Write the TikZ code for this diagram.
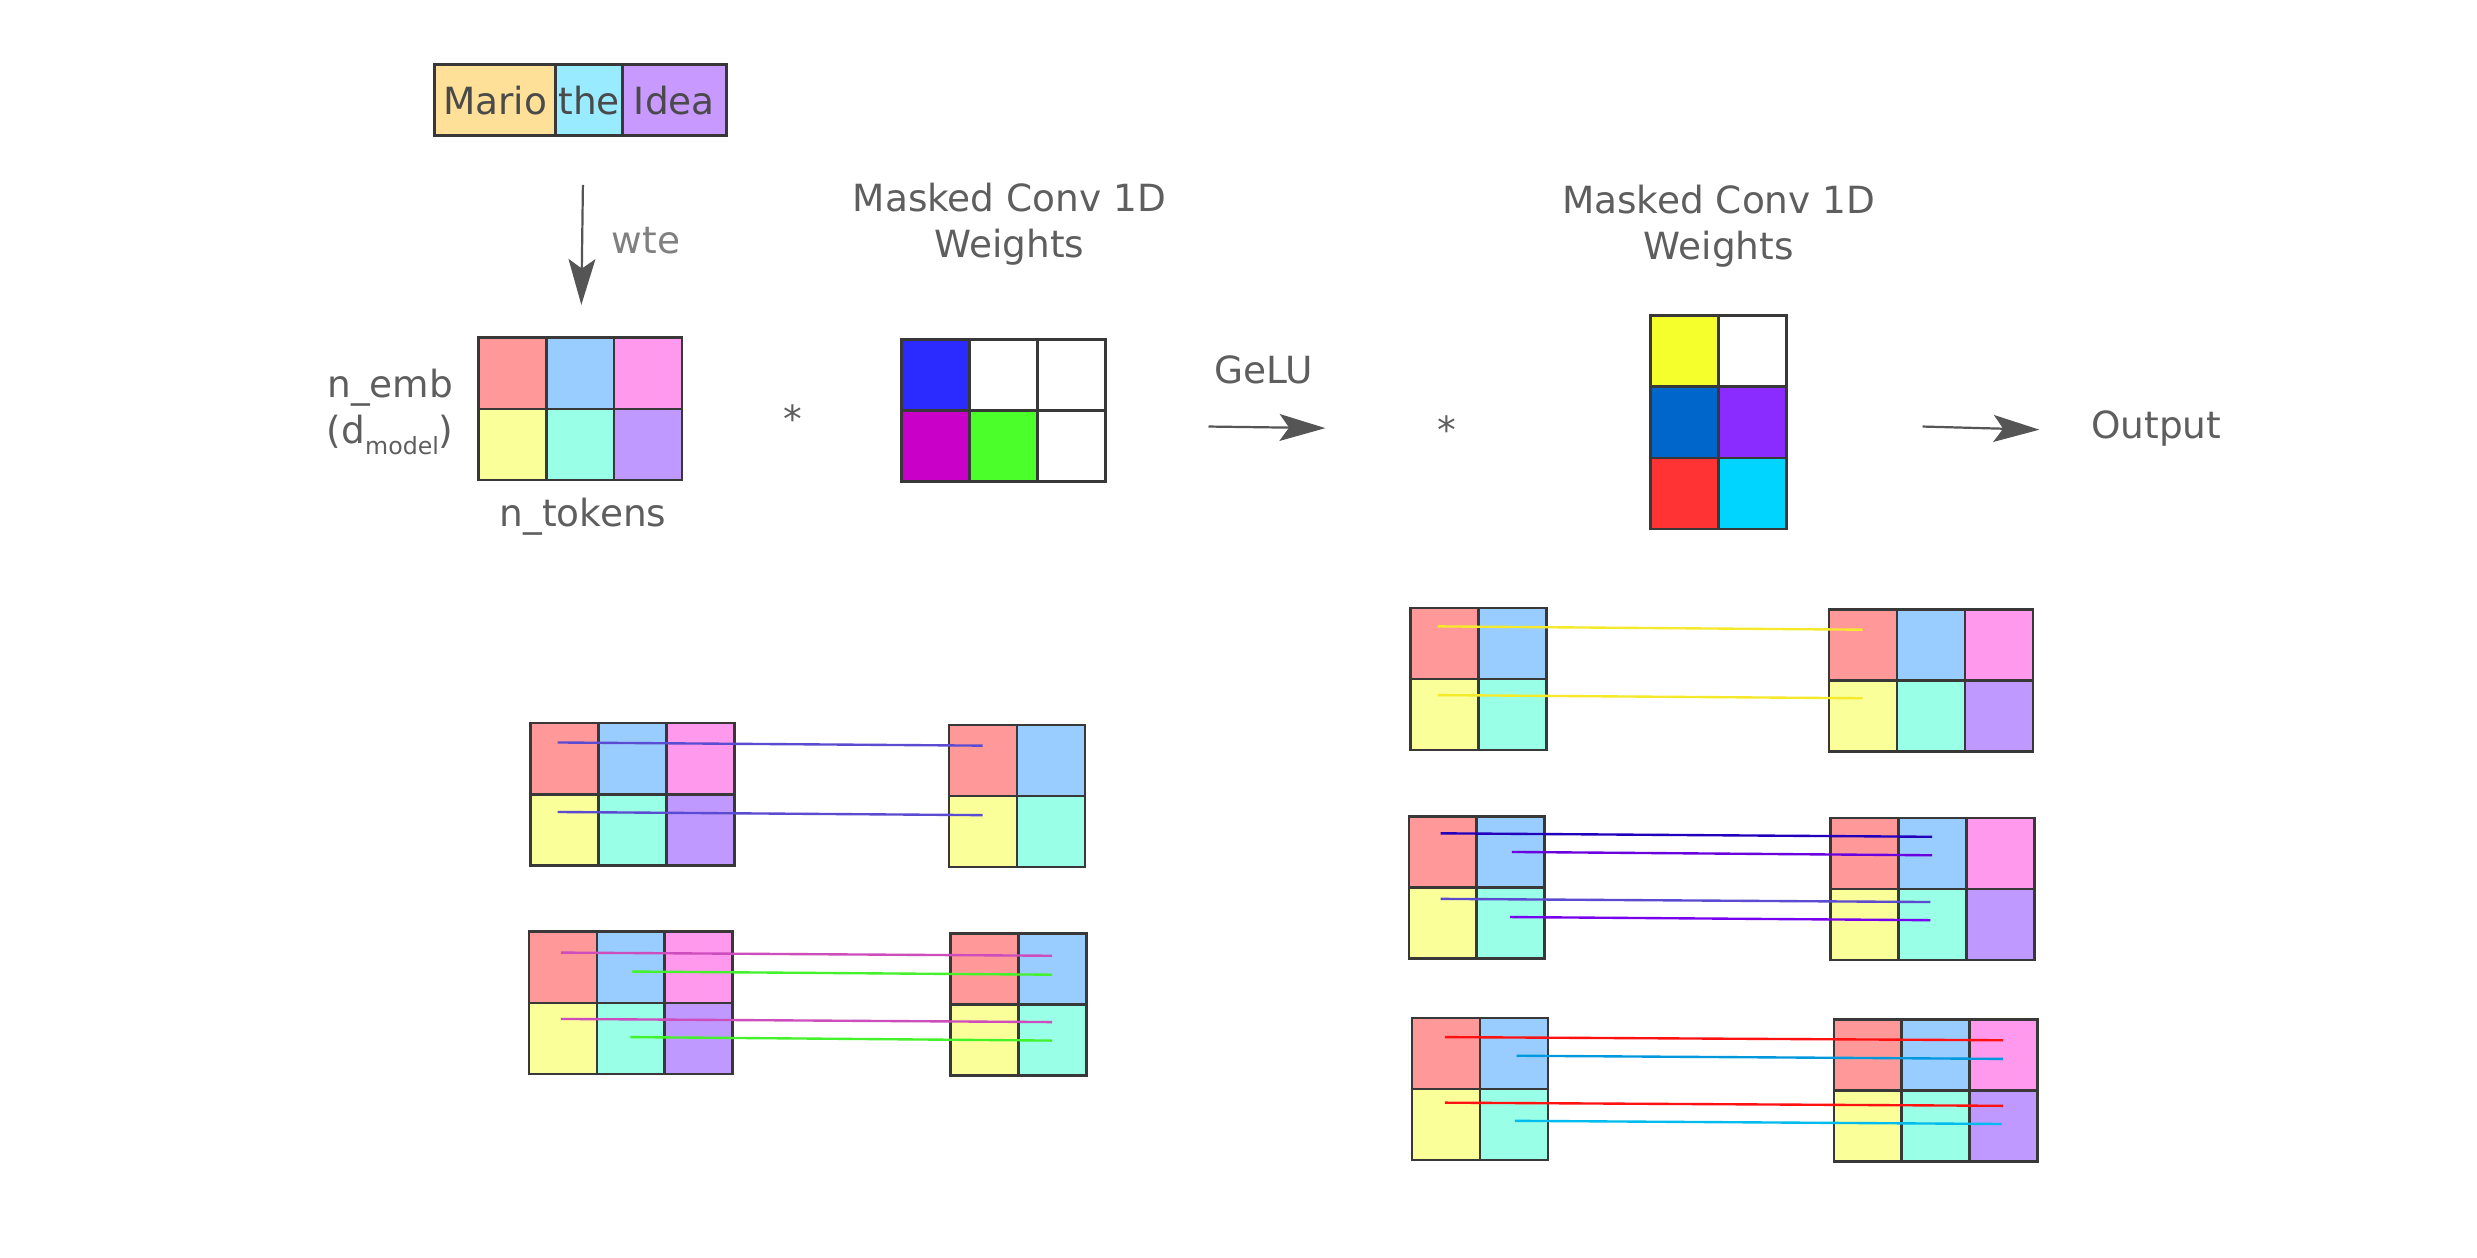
\documentclass[tikz,border=0pt]{standalone}
\usepackage{fontspec}
\setmainfont{DejaVu Sans}
\usetikzlibrary{arrows.meta}
\definecolor{edge}{HTML}{383838}
\definecolor{txt}{HTML}{5E5E5E}
\definecolor{txtdark}{HTML}{4A4A4A}
\definecolor{txtlight}{HTML}{808080}
\definecolor{arrowc}{HTML}{555555}
\definecolor{tokA}{HTML}{FFE099}
\definecolor{tokB}{HTML}{99EBFF}
\definecolor{tokC}{HTML}{C899FF}
\definecolor{eA}{HTML}{FF9999}
\definecolor{eB}{HTML}{99CCFF}
\definecolor{eC}{HTML}{FF99EE}
\definecolor{eD}{HTML}{FAFF99}
\definecolor{eE}{HTML}{99FFE6}
\definecolor{eF}{HTML}{BF99FF}
\definecolor{wA}{HTML}{2B2BFF}
\definecolor{wD}{HTML}{C800C8}
\definecolor{wE}{HTML}{4BFF2B}
\definecolor{vA}{HTML}{F5FF2B}
\definecolor{vC}{HTML}{0066CC}
\definecolor{vD}{HTML}{8A2BFF}
\definecolor{vE}{HTML}{FF3333}
\definecolor{vF}{HTML}{00D5FF}
\definecolor{lnSlate}{HTML}{5B4BD0}
\definecolor{lnMag}{HTML}{CC4DBB}
\definecolor{lnGreen}{HTML}{44F22B}
\definecolor{lnYellow}{HTML}{F5E92B}
\definecolor{lnDark}{HTML}{2200BB}
\definecolor{lnPurp}{HTML}{6A00DD}
\definecolor{lnViolet}{HTML}{7700EE}
\definecolor{lnRed}{HTML}{FF1111}
\definecolor{lnBlue}{HTML}{0099DD}
\definecolor{lnCyan}{HTML}{00BBEE}
\newcommand{\cellgrid}[4]{\foreach \r/\c/\col in {#4}{\node[cell, fill=\col] (#1-\r-\c) at ({#2+(\c-1)*43},{#3+(\r-1)*45}) {};}}
\newcommand{\gridthree}[3]{\cellgrid{#1}{#2}{#3}{1/1/eA,1/2/eB,1/3/eC,2/1/eD,2/2/eE,2/3/eF}}
\newcommand{\gridtwo}[3]{\cellgrid{#1}{#2}{#3}{1/1/eA,1/2/eB,2/1/eD,2/2/eE}}
\begin{document}
\begin{tikzpicture}[x=1pt,y=-1pt,
  cell/.style={draw=edge, line width=1.6pt, minimum width=43pt, minimum height=45pt, inner sep=0pt, anchor=north west},
  tok/.style={draw=edge, line width=1.8pt, minimum height=45pt, inner sep=0pt, anchor=north west, text=txtdark, font=\fontsize{23.7}{29}\selectfont},
  lbl/.style={text=txt, font=\fontsize{23.7}{29}\selectfont, inner sep=0pt, align=center},
  link/.style={line width=1.5pt},
  arr/.style={draw=arrowc, line width=1.4pt, -{Stealth[length=29pt,width=17pt,inset=6pt]}}]
\useasboundingbox[fill=white] (0,0) rectangle (1568,796.3);

% token boxes
\node[tok, fill=tokA, minimum width=77pt] (tMario) at (274,40) {Mario};
\node[tok, fill=tokB, minimum width=42pt] (tThe) at (351,40) {the};
\node[tok, fill=tokC, minimum width=66pt] (tIdea) at (393,40) {Idea};

% wte arrow
\coordinate (wteS) at (369,117);
\coordinate (wteE) at (368,193);
\draw[arr] (wteS) -- (wteE);
\node[lbl, text=txtlight] (wte) at (409,152) {wte};

% embedding matrix
\gridthree{E}{302}{213}
\node[lbl] (nemb) at (247,261) {n\_emb\\(d\raisebox{-0.3em}{\fontsize{15}{15}\selectfont model})};
\node[lbl] (ntok) at (369,327) {n\_tokens};
\node[lbl, anchor=base] (star1) at (502,274) {*};

% first conv weights
\node[lbl] (mc1) at (639,142) {Masked Conv 1D\\Weights};
\cellgrid{W}{570}{214}{1/1/wA,1/2/white,1/3/white,2/1/wD,2/2/wE,2/3/white}

% GeLU
\node[lbl] (gelu) at (800,234) {GeLU};
\coordinate (gS) at (765,270);
\coordinate (gE) at (839,271);
\draw[arr] (gS) -- (gE);
\node[lbl, anchor=base] (star2) at (916,281) {*};

% second conv weights
\node[lbl] (mc2) at (1088,143) {Masked Conv 1D\\Weights};
\cellgrid{V}{1044}{199}{1/1/vA,1/2/white,2/1/vC,2/2/vD,3/1/vE,3/2/vF}

\coordinate (oS) at (1217,270);
\coordinate (oE) at (1291,272);
\draw[arr] (oS) -- (oE);
\node[lbl] (out) at (1365,271) {Output};

% lower-left pairs
\gridthree{A}{335}{457}
\gridtwo{AA}{600}{458}
\gridthree{B}{334}{589}
\gridtwo{BB}{601}{590}

\coordinate (a1s) at (353,470);   \coordinate (a1e) at (622,472);
\coordinate (a2s) at (353,514);   \coordinate (a2e) at (622,516);
\draw[link, lnSlate] (a1s) -- (a1e);
\draw[link, lnSlate] (a2s) -- (a2e);

\coordinate (b1s) at (355,603);   \coordinate (b1e) at (666,605);
\coordinate (b2s) at (400,615);   \coordinate (b2e) at (666,617);
\coordinate (b3s) at (355,645);   \coordinate (b3e) at (666,647);
\coordinate (b4s) at (399,656.5); \coordinate (b4e) at (666,658.7);
\draw[link, lnMag] (b1s) -- (b1e);
\draw[link, lnGreen] (b2s) -- (b2e);
\draw[link, lnMag] (b3s) -- (b3e);
\draw[link, lnGreen] (b4s) -- (b4e);

% right pairs
\gridtwo{C}{892}{384}
\gridthree{CC}{1157}{385}
\gridtwo{D}{891}{516}
\gridthree{DD}{1158}{517}
\gridtwo{F}{893}{643.5}
\gridthree{FF}{1160}{644.5}

\coordinate (c1s) at (910,396.5); \coordinate (c1e) at (1179,398.6);
\coordinate (c2s) at (910,440);   \coordinate (c2e) at (1179,442);
\draw[link, lnYellow] (c1s) -- (c1e);
\draw[link, lnYellow] (c2s) -- (c2e);

\coordinate (d1s) at (912,527.5); \coordinate (d1e) at (1223,529.7);
\coordinate (d2s) at (957,539.3); \coordinate (d2e) at (1223,541.4);
\coordinate (d3s) at (912,569);   \coordinate (d3e) at (1222,571);
\coordinate (d4s) at (956,580.5); \coordinate (d4e) at (1222,582.5);
\draw[link, lnDark] (d1s) -- (d1e);
\draw[link, lnPurp] (d2s) -- (d2e);
\draw[link, lnSlate] (d3s) -- (d3e);
\draw[link, lnViolet] (d4s) -- (d4e);

\coordinate (f1s) at (914.6,656.5); \coordinate (f1e) at (1268,658.5);
\coordinate (f2s) at (960,668.3);   \coordinate (f2e) at (1268,670.3);
\coordinate (f3s) at (914.6,698);   \coordinate (f3e) at (1268,700);
\coordinate (f4s) at (959,709.5);   \coordinate (f4e) at (1267,711.5);
\draw[link, lnRed] (f1s) -- (f1e);
\draw[link, lnBlue] (f2s) -- (f2e);
\draw[link, lnRed] (f3s) -- (f3e);
\draw[link, lnCyan] (f4s) -- (f4e);
\end{tikzpicture}
\end{document}
